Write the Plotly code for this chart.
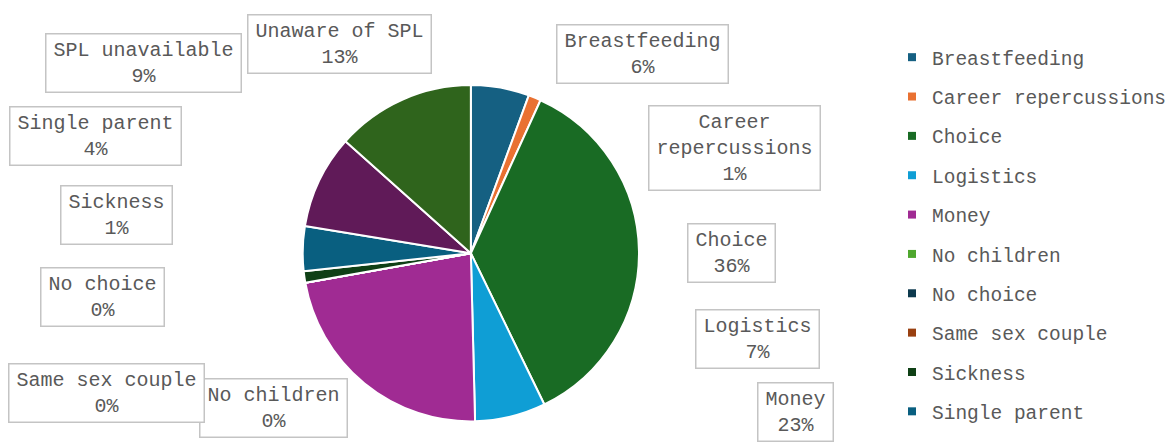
import plotly.graph_objects as go

# reasons for not taking shared parental leave (share of responses, %)
labels = [
    "Breastfeeding", "Career repercussions", "Choice", "Logistics", "Money",
    "No children", "No choice", "Same sex couple", "Sickness", "Single parent",
    "SPL unavailable", "Unaware of SPL",
]
values = [5.6, 1.2, 36.0, 6.8, 22.6, 0, 0, 0, 1.1, 4.3, 9.0, 13.4]
colors = [
    "#156082", "#E97132", "#196B24", "#0F9ED5", "#A02B93", "#4EA72E",
    "#0D3A4E", "#994011", "#0F4016", "#095F80", "#601A58", "#2F641C",
]

# label box placement in pixels (centre x, top y), same order as labels
W, H = 1169, 442
box_pos = [
    (642, 24), (734, 105), (731.5, 223), (757.5, 309), (795.5, 382),
    (273.5, 378), (102, 267), (106.5, 363), (116.5, 185), (95, 106),
    (143, 33), (339, 14),
]

FONT = "Liberation Mono"
TEXT_COL = "#595959"

fig = go.Figure()
fig.add_trace(
    go.Pie(
        labels=labels,
        values=values,
        sort=False,
        direction="clockwise",
        rotation=0,
        textinfo="none",
        showlegend=False,
        marker=dict(colors=colors, line=dict(color="white", width=2)),
        domain=dict(x=[302.7 / W, 639 / W], y=[1 - 421.5 / H, 1 - 85 / H]),
        hovertemplate="%{label}<br>%{percent}<extra></extra>",
    )
)

# legend entries (one group each so the gap between rows can be set)
for lab, col in zip(labels, colors):
    fig.add_trace(
        go.Scatter(
            x=[None], y=[None], mode="markers", name=lab, legendgroup=lab,
            marker=dict(symbol="square", size=8, color=col),
        )
    )

total = sum(values)
for lab, val, (px_, py_) in zip(labels, values, box_pos):
    name = "Career<br>repercussions" if lab == "Career repercussions" else lab
    lines = name.split("<br>") + [f"{round(val / total * 100)}%"]
    fig.add_annotation(
        x=px_ / W, y=1 - py_ / H, xref="paper", yref="paper",
        xanchor="center", yanchor="top",
        text="<br>".join(lines),
        showarrow=False,
        align="center",
        width=max(len(s) for s in lines) * 12 + 6,
        font=dict(family=FONT, size=20, color=TEXT_COL),
        bordercolor="#C4C4C4", borderwidth=1.5, borderpad=4,
        bgcolor="white",
    )

fig.update_layout(
    width=W, height=H,
    margin=dict(l=0, r=0, t=0, b=0, autoexpand=False),
    paper_bgcolor="white",
    plot_bgcolor="white",
    xaxis=dict(visible=False),
    yaxis=dict(visible=False),
    showlegend=True,
    legend=dict(
        x=892 / W, y=1 - 38 / H, xanchor="left", yanchor="top",
        traceorder="grouped", tracegroupgap=11,
        itemwidth=30,
        font=dict(family=FONT, size=19.5, color=TEXT_COL),
        bgcolor="rgba(0,0,0,0)",
    ),
)

# page body has an 8px default margin; drop it so the figure sits at 0,0
fig.write_html(
    "out.html",
    config={"displayModeBar": False},
    post_script="document.body.style.margin='0';",
)
